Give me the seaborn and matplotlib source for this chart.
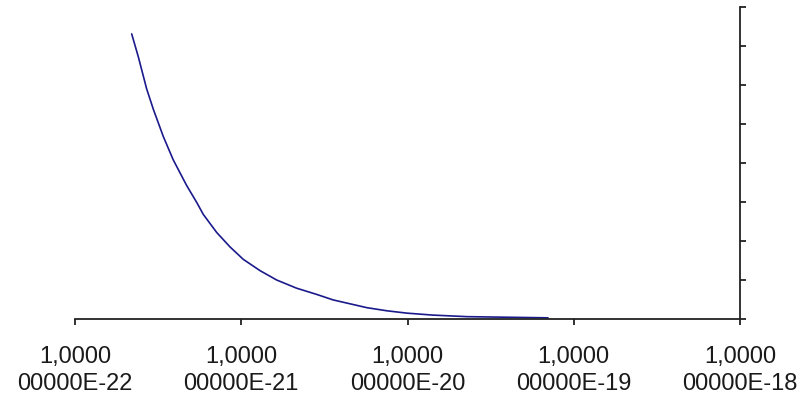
import matplotlib
matplotlib.use("Agg")
import matplotlib.pyplot as plt
import seaborn as sns
import numpy as np
import pandas as pd

# data (x on a log scale, y in units of the right-axis ticks)
log_x = [-21.659, -21.619, -21.569, -21.529, -21.469, -21.409, -21.328, -21.268,
         -21.228, -21.148, -21.068, -20.988, -20.887, -20.787, -20.667, -20.546,
         -20.448, -20.244, -20.123, -20.003, -19.847, -19.642, -19.155]
y_vals = [7.31, 6.72, 5.90, 5.38, 4.68, 4.08, 3.42, 2.99,
          2.68, 2.22, 1.85, 1.53, 1.24, 1.00, 0.79, 0.63,
          0.49, 0.29, 0.21, 0.15, 0.10, 0.06, 0.03]
x_ticks_exp = [-22, -21, -20, -19, -18]
x_tick_labels = ["1,0000\n00000E-22", "1,0000\n00000E-21", "1,0000\n00000E-20",
                 "1,0000\n00000E-19", "1,0000\n00000E-18"]
y_ticks = [0, 1, 2, 3, 4, 5, 6, 7, 8]

df = pd.DataFrame({"x": [10.0 ** v for v in log_x], "y": y_vals})

sns.set_theme(style="white")
plt.rcParams['font.family'] = ['Liberation Sans', 'DejaVu Sans']

W, H = 801, 407
fig = plt.figure(figsize=(W / 100, H / 100), dpi=100)
ax = fig.add_axes([75 / W, (H - 319) / H, (740 - 75) / W, (319 - 7) / H])

sns.lineplot(data=df, x="x", y="y", ax=ax, color="#1a1a8c", linewidth=1.2)

ax.set_xscale("log")
ax.set_xlim(1e-22, 1e-18)
ax.set_ylim(0, 8)
ax.set_xticks([10.0 ** e for e in x_ticks_exp])
ax.set_xticklabels(x_tick_labels, fontsize=17, color="#1a1a1a", linespacing=1.3)
ax.xaxis.set_minor_locator(matplotlib.ticker.NullLocator())
ax.set_yticks(y_ticks)
ax.yaxis.tick_right()
ax.tick_params(axis="y", which="both", left=False, right=True, labelright=False,
               labelleft=False, length=4.5, width=1.3, color="#222222", direction="out")
ax.tick_params(axis="x", which="major", bottom=True, length=4.5, width=1.3,
               color="#222222", direction="out", pad=15)
ax.set_xlabel("")
ax.set_ylabel("")
for s in ["left", "top"]:
    ax.spines[s].set_visible(False)
for s in ["right", "bottom"]:
    ax.spines[s].set_visible(True)
    ax.spines[s].set_color("#222222")
    ax.spines[s].set_linewidth(1.3)
ax.grid(False)
fig.patch.set_facecolor("white")
ax.set_facecolor("white")

fig.savefig("out.png", dpi=100)
